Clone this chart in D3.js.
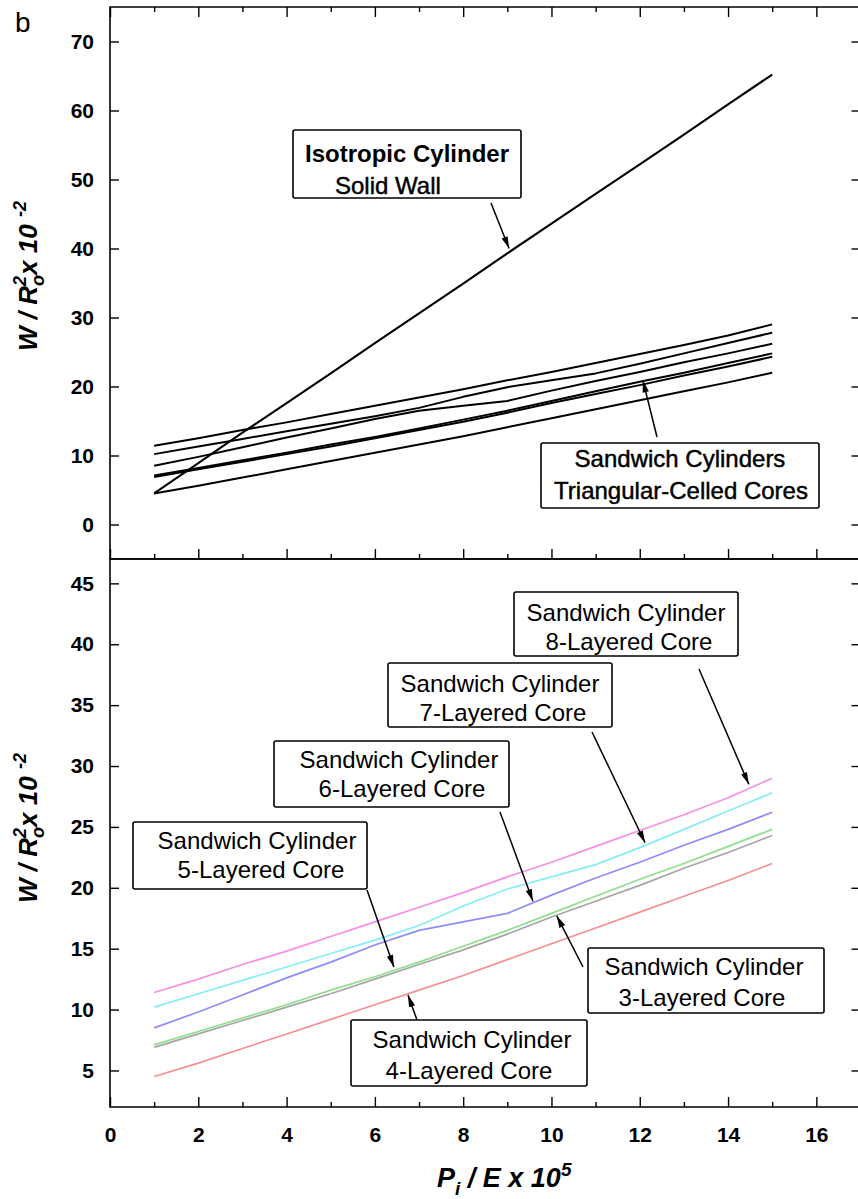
<!DOCTYPE html>
<html>
<head>
<meta charset="utf-8">
<script src="https://cdn.jsdelivr.net/npm/d3@7"></script>
<style>
  body { margin: 0; background: #fff; }
  svg { display: block; }
  text { font-family: "Liberation Sans", Arial, sans-serif; fill: #000; }
</style>
</head>
<body>
<svg id="chart" width="858" height="1199"></svg>
<script>
// Internal pressure P_i/E x 10^5
const pressure = [1, 2, 3, 4, 5, 6, 7, 8, 9, 10, 11, 12, 13, 14, 15];

// Weight W/R_o^2 x 10^-2 for each cylinder design
const isotropicWall = [4.5, 8.9, 13.3, 17.6, 21.9, 26.3, 30.6, 34.9, 39.3, 43.6, 47.9, 52.2, 56.5, 60.9, 65.2];
const core8 = [11.4, 12.5, 13.7, 14.8, 16.0, 17.2, 18.4, 19.6, 20.9, 22.1, 23.4, 24.7, 26.0, 27.4, 29.0];
const core7 = [10.2, 11.3, 12.4, 13.5, 14.6, 15.7, 16.9, 18.5, 19.9, 20.9, 21.9, 23.3, 24.8, 26.3, 27.8];
const core6 = [8.5, 9.8, 11.2, 12.6, 13.9, 15.3, 16.5, 17.2, 17.9, 19.4, 20.8, 22.1, 23.5, 24.8, 26.2];
const core5 = [7.1, 8.2, 9.3, 10.4, 11.6, 12.7, 13.9, 15.2, 16.5, 17.9, 19.3, 20.7, 22.0, 23.4, 24.8];
const core3 = [6.9, 8.0, 9.1, 10.2, 11.3, 12.5, 13.7, 14.9, 16.2, 17.6, 18.9, 20.2, 21.6, 22.9, 24.3];
const core4 = [4.5, 5.6, 6.8, 8.0, 9.2, 10.4, 11.6, 12.8, 14.1, 15.4, 16.7, 18.0, 19.3, 20.6, 22.0];

// Axis ticks
const xMajorTicks = [0, 2, 4, 6, 8, 10, 12, 14, 16];
const xMinorTicks = [1, 3, 5, 7, 9, 11, 13, 15];
const topYTicks = [0, 10, 20, 30, 40, 50, 60, 70];
const bottomYTicks = [5, 10, 15, 20, 25, 30, 35, 40, 45];

const sandwichSeries = [
  { name: "8-Layered Core", values: core8, color: "#f590e6" },
  { name: "7-Layered Core", values: core7, color: "#86eef6" },
  { name: "6-Layered Core", values: core6, color: "#8e8ef6" },
  { name: "5-Layered Core", values: core5, color: "#8ee08e" },
  { name: "3-Layered Core", values: core3, color: "#a6a6a6" },
  { name: "4-Layered Core", values: core4, color: "#f79090" }
];

const svg = d3.select("#chart");

const left = 110, right = 860.5;
const topPanel = { top: 7, bottom: 559 };
const bottomPanel = { top: 559, bottom: 1107 };

const x = d3.scaleLinear().domain([0, 17]).range([left, right]);
const yTop = d3.scaleLinear().domain([-5, 75]).range([topPanel.bottom, topPanel.top]);
const yBot = d3.scaleLinear().domain([2, 47]).range([bottomPanel.bottom, bottomPanel.top]);

// arrowhead
svg.append("defs").append("marker")
  .attr("id", "head")
  .attr("viewBox", "0 -4 12 8")
  .attr("refX", 12).attr("refY", 0)
  .attr("markerUnits", "userSpaceOnUse")
  .attr("markerWidth", 13).attr("markerHeight", 8)
  .attr("orient", "auto")
  .append("path").attr("d", "M0,-3.2L12,0L0,3.2Z").attr("fill", "#000");

const tickFont = g => g.selectAll("text")
  .style("font-family", "'Liberation Sans', Arial, sans-serif")
  .style("font-size", "21px")
  .style("font-weight", "bold")
  .attr("fill", "#000");
const cleanAxis = g => {
  g.select(".domain").remove();
  g.selectAll("line").attr("stroke", "#000").attr("stroke-width", 1.4);
};

function drawFrame(panel, yScale, yTicks, showXLabels) {
  // left axis with labels
  svg.append("g").attr("transform", `translate(${left},0)`)
    .call(d3.axisLeft(yScale).tickValues(yTicks).tickSize(-9).tickPadding(16).tickFormat(d3.format("d")))
    .call(cleanAxis).call(tickFont);
  // right axis ticks
  svg.append("g").attr("transform", `translate(${right},0)`)
    .call(d3.axisRight(yScale).tickValues(yTicks).tickSize(-9).tickFormat(""))
    .call(cleanAxis);
  // bottom axis ticks (inward)
  svg.append("g").attr("transform", `translate(0,${panel.bottom})`)
    .call(d3.axisBottom(x).tickValues(xMajorTicks).tickSize(-10).tickPadding(20)
      .tickFormat(showXLabels ? d3.format("d") : ""))
    .call(cleanAxis).call(tickFont);
  svg.append("g").attr("transform", `translate(0,${panel.bottom})`)
    .call(d3.axisBottom(x).tickValues(xMinorTicks).tickSize(-5).tickFormat(""))
    .call(cleanAxis);
  // frame: top, left and bottom edges (right edge lies past the page)
  svg.append("path")
    .attr("d", `M${right + 4},${panel.top}H${left}V${panel.bottom}H${right + 4}`)
    .attr("fill", "none").attr("stroke", "#000").attr("stroke-width", 1.6);
}

// top panel: ticks along the upper edge as well
svg.append("g").attr("transform", `translate(0,${topPanel.top})`)
  .call(d3.axisTop(x).tickValues(xMajorTicks).tickSize(-10).tickFormat(""))
  .call(cleanAxis);
svg.append("g").attr("transform", `translate(0,${topPanel.top})`)
  .call(d3.axisTop(x).tickValues(xMinorTicks).tickSize(-5).tickFormat(""))
  .call(cleanAxis);

drawFrame(topPanel, yTop, topYTicks, false);
drawFrame(bottomPanel, yBot, bottomYTicks, true);

// curves
const lineTop = d3.line().x((d, i) => x(pressure[i])).y(d => yTop(d));
const lineBot = d3.line().x((d, i) => x(pressure[i])).y(d => yBot(d));

sandwichSeries.forEach(s => {
  svg.append("path").attr("d", lineTop(s.values))
    .attr("fill", "none").attr("stroke", "#000").attr("stroke-width", 2)
    .attr("stroke-linejoin", "round");
});
svg.append("path").attr("d", lineTop(isotropicWall))
  .attr("fill", "none").attr("stroke", "#000").attr("stroke-width", 2.1)
  .attr("stroke-linejoin", "round");

sandwichSeries.forEach(s => {
  svg.append("path").attr("d", lineBot(s.values))
    .attr("fill", "none").attr("stroke", s.color).attr("stroke-width", 1.7)
    .attr("stroke-linejoin", "round");
});

// callout boxes with arrows (tip given in data units)
const callouts = [
  { panel: "top", box: [293, 130, 228, 68], from: [491, 203], tip: [9.04, 40.0],
    lines: [{ t: "Isotropic Cylinder", x: 305, y: 162, anchor: "start", bold: true },
            { t: "Solid Wall", x: 335, y: 194, anchor: "start", medium: true }] },
  { panel: "top", box: [541, 443, 278, 65], from: [657, 437], tip: [12.07, 20.9],
    lines: [{ t: "Sandwich Cylinders", x: 680, y: 467, medium: true },
            { t: "Triangular-Celled Cores", x: 681, y: 499, medium: true }] },
  { panel: "bot", box: [514, 592, 224, 64], from: [699, 669], tip: [14.47, 28.5],
    lines: [{ t: "Sandwich Cylinder", x: 626, y: 621 }, { t: "8-Layered Core", x: 629, y: 650 }] },
  { panel: "bot", box: [388, 663, 224, 64], from: [592, 732], tip: [12.12, 23.7],
    lines: [{ t: "Sandwich Cylinder", x: 500, y: 692 }, { t: "7-Layered Core", x: 503, y: 721 }] },
  { panel: "bot", box: [274, 741, 235, 66], from: [500, 812], tip: [9.58, 18.9],
    lines: [{ t: "Sandwich Cylinder", x: 399, y: 768 }, { t: "6-Layered Core", x: 402, y: 797 }] },
  { panel: "bot", box: [133, 822, 234, 67], from: [367, 890], tip: [6.43, 13.5],
    lines: [{ t: "Sandwich Cylinder", x: 257, y: 849 }, { t: "5-Layered Core", x: 261, y: 878 }] },
  { panel: "bot", box: [351, 1020, 236, 66], from: [417, 1020], tip: [6.75, 11.2],
    lines: [{ t: "Sandwich Cylinder", x: 472, y: 1048 }, { t: "4-Layered Core", x: 469, y: 1079 }] },
  { panel: "bot", box: [588, 948, 236, 65], from: [583, 967], tip: [10.12, 17.7],
    lines: [{ t: "Sandwich Cylinder", x: 704, y: 975 }, { t: "3-Layered Core", x: 702, y: 1006 }] }
];

callouts.forEach(c => {
  const ys = c.panel === "top" ? yTop : yBot;
  svg.append("line")
    .attr("x1", c.from[0]).attr("y1", c.from[1])
    .attr("x2", x(c.tip[0])).attr("y2", ys(c.tip[1]))
    .attr("stroke", "#000").attr("stroke-width", 1.5)
    .attr("marker-end", "url(#head)");
  svg.append("rect")
    .attr("x", c.box[0]).attr("y", c.box[1])
    .attr("width", c.box[2]).attr("height", c.box[3])
    .attr("rx", 2)
    .attr("fill", "#fff").attr("stroke", "#000").attr("stroke-width", 1.6);
  c.lines.forEach(l => {
    const t = svg.append("text")
      .attr("x", l.x).attr("y", l.y)
      .attr("text-anchor", l.anchor || "middle")
      .style("font-size", "24px")
      .style("font-weight", l.bold ? "bold" : "normal")
      .text(l.t);
    if (l.medium) t.attr("stroke", "#000").attr("stroke-width", 0.45);
  });
});

// panel letter
svg.append("text").attr("x", 15).attr("y", 32)
  .style("font-size", "28px").text("b");

// y-axis titles
function yTitle(cy) {
  const t = svg.append("text")
    .attr("transform", `translate(37,${cy}) rotate(-90)`)
    .attr("text-anchor", "middle")
    .style("font-size", "26px").style("font-weight", "bold").style("font-style", "italic");
  t.append("tspan").text("W / R");
  t.append("tspan").attr("dy", -11).style("font-size", "18px").text("2");
  t.append("tspan").attr("dx", -10).attr("dy", 18).style("font-size", "18px").text("o");
  t.append("tspan").attr("dy", -7).text("x 10 ");
  t.append("tspan").attr("dy", -11).style("font-size", "18px").text("-2");
}
yTitle(276);
yTitle(828);

// x-axis title
const xt = svg.append("text")
  .attr("x", 437).attr("y", 1187)
  .style("font-size", "27px").style("font-weight", "bold").style("font-style", "italic");
xt.append("tspan").text("P");
xt.append("tspan").attr("dy", 8).style("font-size", "19px").text("i");
xt.append("tspan").attr("dy", -8).text(" / E x 10");
xt.append("tspan").attr("dy", -11).style("font-size", "19px").text("5");
</script>
</body>
</html>
